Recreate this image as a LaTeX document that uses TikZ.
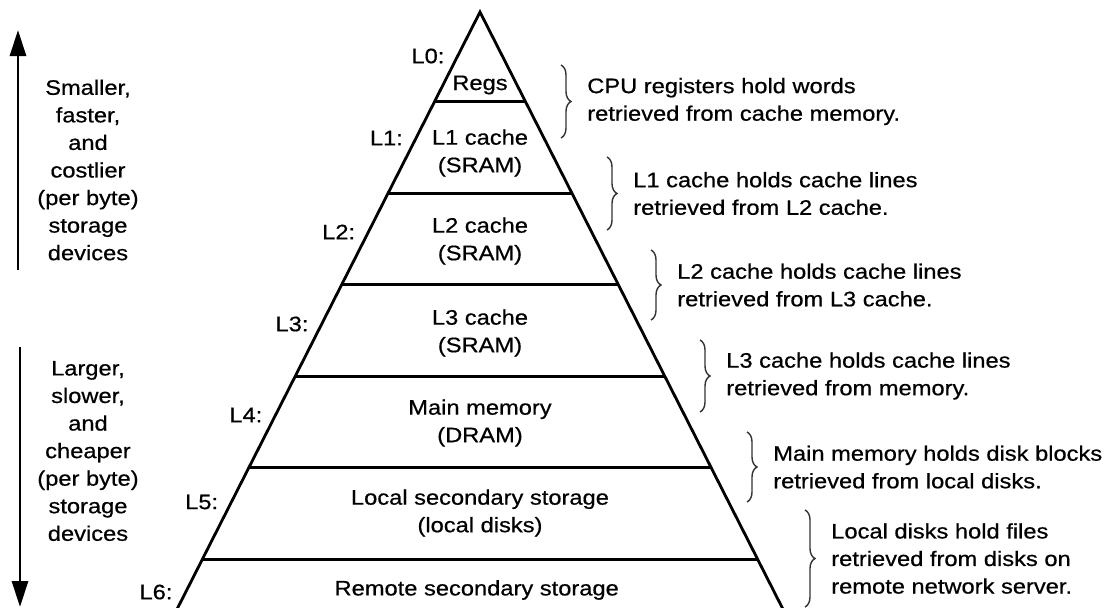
\documentclass[tikz,border=0pt]{standalone}
\usepackage{fontspec}
\setmainfont{Liberation Sans}[FakeStretch=1.13, FakeBold=0.6]
\usetikzlibrary{calc,arrows.meta,decorations.pathreplacing}

\begin{document}
\begin{tikzpicture}[
		x=0.025cm,
		y=-0.025cm,
		font=\fontsize{14.9}{19.6}\selectfont,
		edge/.style={line width=2pt, line join=miter},
		layer/.style={align=center, inner sep=0pt},
		levelname/.style={anchor=east, inner sep=0pt},
		bracket/.style={draw=black!80, line width=1pt, decorate, decoration={brace, amplitude=0.25cm}},
		holds/.style={align=left, anchor=west, inner sep=0pt, xshift=0.65cm},
		trend/.style={line width=2.1pt, -{Triangle[length=0.65cm, width=0.4cm]}},
		trendtext/.style={align=center, inner sep=0pt}
	]

	% Frame
	\useasboundingbox (0,0) rectangle (1111,607);
	\clip (0,0) rectangle (1111,607);

	% Pyramid outline
	\coordinate (apex) at (480,12);
	\coordinate (bl) at (168,627);
	\coordinate (br) at (792,627);
	\draw[edge] (bl) -- (apex) -- (br);

	% Shelves between the levels
	\foreach \k in {0,...,5} {
			\pgfmathsetmacro{\ratio}{(89.7 + 91.5*\k)/615}
			\coordinate (sl\k) at ($(apex)!\ratio!(bl)$);
			\coordinate (sr\k) at ($(apex)!\ratio!(br)$);
			\draw[edge] (sl\k) -- (sr\k);
		}

	% Level names on the left slope
	\foreach \k/\ypos in {
			0/56,
			1/138,
			2/232,
			3/324,
			4/415,
			5/502,
			6/592
		} {
			\pgfmathsetmacro{\ratio}{(\ypos - 12)/615}
			\node[levelname] (lv\k) at ($(apex)!\ratio!(bl) + (-13,0)$) {L\k:};
		}

	% Storage in each level
	\foreach \k/\ypos/\name in {
			0/85/{Regs},
			1/153/{L1 cache\\(SRAM)},
			2/241/{L2 cache\\(SRAM)},
			3/333/{L3 cache\\(SRAM)},
			4/423/{Main memory\\(DRAM)},
			5/513/{Local secondary storage\\(local disks)},
			6/590/{Remote secondary storage}
		} {
			\node[layer] (lay\k) at (480,\ypos) {\name};
		}

	% Braces
	\foreach \k/\xpos/\ytop/\ybot in {
			1/561/65/138,
			2/607/157/230,
			3/651/250/320,
			4/700/340/412,
			5/747/432/502,
			6/805/510/607
		} {
			\coordinate (bt\k) at (\xpos,\ytop);
			\coordinate (bb\k) at (\xpos,\ybot);
			\coordinate (bm\k) at (\xpos,{(\ytop+\ybot)/2});
			\draw[bracket] (bt\k) -- (bb\k);
		}

	% What each level holds
	\node[holds] (note1) at (bm1) {CPU registers hold words\\retrieved from cache memory.};
	\node[holds] (note2) at (bm2) {L1 cache holds cache lines\\retrieved from L2 cache.};
	\node[holds] (note3) at (bm3) {L2 cache holds cache lines\\retrieved from L3 cache.};
	\node[holds] (note4) at (bm4) {L3 cache holds cache lines\\retrieved from memory.};
	\node[holds] (note5) at (bm5) {Main memory holds disk blocks\\retrieved from local disks.};
	\node[holds] (note6) at (bm6) {Local disks hold files\\retrieved from disks on\\remote network server.};

	% Trend arrows on the left
	\coordinate (fastbot) at (18,270);
	\coordinate (fasttop) at (18,30);
	\draw[trend] (fastbot) -- (fasttop);
	\node[trendtext] (fast) at (88,170) {Smaller,\\faster,\\and\\costlier\\(per byte)\\storage\\devices};

	\coordinate (slowtop) at (20,347);
	\coordinate (slowbot) at (20,607);
	\draw[trend] (slowtop) -- (slowbot);
	\node[trendtext] (slow) at (88,451) {Larger,\\slower,\\and\\cheaper\\(per byte)\\storage\\devices};

\end{tikzpicture}
\end{document}
